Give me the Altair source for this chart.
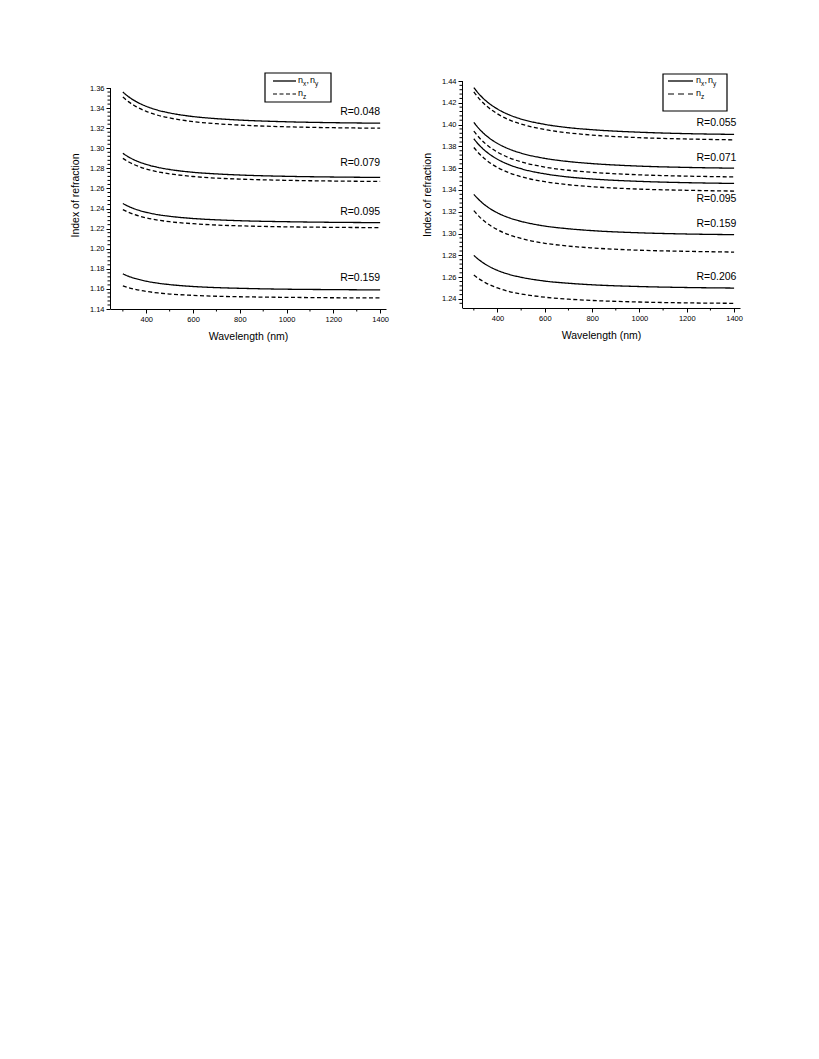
import altair as alt
import pandas as pd

FONT = "Liberation Sans"

wavelength = [300, 325, 350, 400, 450, 500, 600, 700, 800, 1000, 1200, 1400]

# ---- left panel ----
L048_nxy = [1.356, 1.3512, 1.3474, 1.3418, 1.3379, 1.3352, 1.3316, 1.3295, 1.3281, 1.3264, 1.3255, 1.325]
L048_nz = [1.351, 1.3462, 1.3424, 1.3368, 1.3329, 1.3302, 1.3266, 1.3245, 1.3231, 1.3214, 1.3205, 1.320]
L079_nxy = [1.295, 1.2913, 1.2883, 1.284, 1.281, 1.2789, 1.2761, 1.2745, 1.2734, 1.2721, 1.2714, 1.271]
L079_nz = [1.290, 1.2864, 1.2836, 1.2794, 1.2766, 1.2746, 1.2719, 1.2703, 1.2693, 1.2681, 1.2674, 1.267]
L095_nxy = [1.245, 1.2421, 1.2397, 1.2363, 1.2339, 1.2323, 1.2301, 1.2288, 1.2279, 1.2269, 1.2263, 1.226]
L095_nz = [1.239, 1.2362, 1.234, 1.2307, 1.2285, 1.2269, 1.2249, 1.2236, 1.2228, 1.2218, 1.2213, 1.221]
L159_nxy = [1.175, 1.1725, 1.1706, 1.1677, 1.1657, 1.1643, 1.1624, 1.1613, 1.1606, 1.1597, 1.1593, 1.159]
L159_nz = [1.163, 1.1611, 1.1597, 1.1575, 1.156, 1.1549, 1.1536, 1.1527, 1.1522, 1.1516, 1.1512, 1.151]

left_labels = ["R=0.048", "R=0.079", "R=0.095", "R=0.159"]
left_label_y = [1.3364, 1.285, 1.2368, 1.171]
left_yticks = [1.14, 1.16, 1.18, 1.20, 1.22, 1.24, 1.26, 1.28, 1.30, 1.32, 1.34, 1.36]
left_extra_minor = []

# ---- right panel ----
R055_nxy = [1.434, 1.4273, 1.422, 1.4143, 1.4089, 1.4051, 1.4002, 1.3972, 1.3953, 1.393, 1.3917, 1.391]
R055_nz = [1.430, 1.4232, 1.4178, 1.4098, 1.4043, 1.4005, 1.3954, 1.3924, 1.3904, 1.388, 1.3868, 1.386]
R071_nxy = [1.402, 1.3955, 1.3903, 1.3827, 1.3775, 1.3738, 1.369, 1.3661, 1.3642, 1.3619, 1.3607, 1.360]
R071_nz = [1.394, 1.3875, 1.3823, 1.3747, 1.3695, 1.3658, 1.361, 1.3581, 1.3562, 1.3539, 1.3527, 1.352]
R095_nxy = [1.387, 1.3806, 1.3756, 1.3682, 1.3631, 1.3595, 1.3548, 1.3519, 1.3501, 1.3479, 1.3467, 1.346]
R095_nz = [1.379, 1.3728, 1.3679, 1.3606, 1.3557, 1.3522, 1.3476, 1.3448, 1.343, 1.3408, 1.3397, 1.339]
R159_nxy = [1.336, 1.3303, 1.3257, 1.319, 1.3144, 1.3112, 1.3069, 1.3044, 1.3027, 1.3007, 1.2996, 1.299]
R159_nz = [1.321, 1.3151, 1.3104, 1.3036, 1.2988, 1.2955, 1.2911, 1.2885, 1.2868, 1.2847, 1.2837, 1.283]
R206_nxy = [1.280, 1.2754, 1.2717, 1.2662, 1.2625, 1.2599, 1.2564, 1.2544, 1.253, 1.2514, 1.2505, 1.250]
R206_nz = [1.262, 1.258, 1.2548, 1.2501, 1.2468, 1.2446, 1.2416, 1.2398, 1.2386, 1.2372, 1.2364, 1.236]

right_labels = ["R=0.055", "R=0.071", "R=0.095", "R=0.159", "R=0.206"]
right_label_y = [1.4012, 1.3696, 1.3315, 1.3088, 1.2599]
right_yticks = [1.24, 1.26, 1.28, 1.30, 1.32, 1.34, 1.36, 1.38, 1.40, 1.42, 1.44]
right_extra_minor = [1.236]

x_major = [400, 600, 800, 1000, 1200, 1400]
x_minor = [300, 500, 700, 900, 1100, 1300]


def lines_df(series):
    rows = []
    for name, pol, vals in series:
        for w, v in zip(wavelength, vals):
            rows.append({"wl": w, "n": v, "series": name + "_" + pol, "pol": pol})
    return pd.DataFrame(rows)


def y_minor(ticks, extra):
    out = list(extra)
    for a, b in zip(ticks[:-1], ticks[1:]):
        step = (b - a) / 5
        out += [round(a + step * k, 4) for k in range(1, 5)]
    return out


def panel(df, labels, label_y, label_x, xdom, ydom, yticks, extra_minor, w, h, dash, leg):
    xs = alt.Scale(domain=xdom, nice=False, zero=False)
    ys = alt.Scale(domain=ydom, nice=False, zero=False)
    xa = alt.Axis(values=x_major, format="d", tickSize=4)
    ya = alt.Axis(values=yticks, format=".2f", tickSize=4, domain=False)
    XT = "Wavelength (nm)"
    YT = "Index of refraction"

    def X(f):
        return alt.X(f, scale=xs, axis=xa, title=XT)

    def Y(f):
        return alt.Y(f, scale=ys, axis=ya, title=YT)

    lines = alt.Chart(df).mark_line(color="black", strokeWidth=1.3, interpolate="monotone").encode(
        x=X("wl:Q"), y=Y("n:Q"),
        detail="series:N",
        strokeDash=alt.StrokeDash("pol:N", scale=alt.Scale(domain=["nxy", "nz"], range=[[1, 0], dash]), legend=None),
    )

    # y axis line from the bottom of the frame to the top tick
    yline = alt.Chart(pd.DataFrame({"a": [ydom[0]], "b": [yticks[-1]]})).mark_rule(
        color="black", strokeWidth=1).encode(y=Y("a:Q"), y2="b:Q", x=alt.value(0.5))

    xmin = alt.Chart(pd.DataFrame({"v": x_minor})).mark_rule(color="black", strokeWidth=1).encode(
        x=X("v:Q"), y=alt.value(h), y2=alt.value(h + 2.5))
    ymin = alt.Chart(pd.DataFrame({"v": y_minor(yticks, extra_minor)})).mark_rule(color="black", strokeWidth=1).encode(
        y=Y("v:Q"), x=alt.value(0), x2=alt.value(-2.5))

    txt = alt.Chart(pd.DataFrame({"t": labels, "y": label_y, "x": [label_x] * len(labels)})).mark_text(
        align="right", baseline="middle", fontSize=10.5, font=FONT, color="black").encode(
        x=X("x:Q"), y=Y("y:Q"), text="t:N")

    one = pd.DataFrame({"k": [0]})
    bx0, bx1, by0, by1, lx0, lx1, ly1, ly2, tx = leg
    box = alt.Chart(one).mark_rect(fillOpacity=0, stroke="black", strokeWidth=1.2).encode(
        x=alt.value(bx0), x2=alt.value(bx1), y=alt.value(by0), y2=alt.value(by1))
    s1 = alt.Chart(one).mark_rule(color="black", strokeWidth=1.3).encode(
        x=alt.value(lx0), x2=alt.value(lx1), y=alt.value(ly1))
    s2 = alt.Chart(one).mark_rule(color="black", strokeWidth=1.2, strokeDash=dash).encode(
        x=alt.value(lx0), x2=alt.value(lx1), y=alt.value(ly2))

    def t(s, x, y, size=9):
        return alt.Chart(one).mark_text(align="left", baseline="middle", fontSize=size, font=FONT,
                                        color="black").encode(x=alt.value(x), y=alt.value(y), text=alt.value(s))

    legend_text = [
        t("n", tx, ly1 - 1), t("x", tx + 5, ly1 + 3, 6.5), t(",", tx + 8.5, ly1 - 1),
        t("n", tx + 12, ly1 - 1), t("y", tx + 17, ly1 + 3, 6.5),
        t("n", tx, ly2 - 1), t("z", tx + 5, ly2 + 3, 6.5),
    ]
    return alt.layer(lines, yline, xmin, ymin, txt, box, s1, s2, *legend_text).properties(width=w, height=h)


left_df = lines_df([
    ("048", "nxy", L048_nxy), ("048", "nz", L048_nz),
    ("079", "nxy", L079_nxy), ("079", "nz", L079_nz),
    ("095", "nxy", L095_nxy), ("095", "nz", L095_nz),
    ("159", "nxy", L159_nxy), ("159", "nz", L159_nz),
])
right_df = lines_df([
    ("055", "nxy", R055_nxy), ("055", "nz", R055_nz),
    ("071", "nxy", R071_nxy), ("071", "nz", R071_nz),
    ("095", "nxy", R095_nxy), ("095", "nz", R095_nz),
    ("159", "nxy", R159_nxy), ("159", "nz", R159_nz),
    ("206", "nxy", R206_nxy), ("206", "nz", R206_nz),
])

left = panel(left_df, left_labels, left_label_y, 1400, [245, 1425], [1.14, 1.367], left_yticks, left_extra_minor,
             276, 228, [4, 2.5], (155, 221, -8, 21, 163, 186, 0, 13, 188))
right = panel(right_df, right_labels, right_label_y, 1410, [250, 1425], [1.2317, 1.44], right_yticks, right_extra_minor,
              278, 227, [6, 4], (201, 265, -7, 30, 206, 231, 0, 13, 234))

chart = alt.hconcat(left, right, spacing=33).properties(
    padding={"left": 62, "top": 64, "right": 5, "bottom": 5}
).configure_view(stroke=None).configure_axis(
    labelFont=FONT, titleFont=FONT, labelFontSize=7.5, titleFontSize=10.5,
    titleFontWeight="normal", labelColor="black", titleColor="black",
    domainColor="black", tickColor="black", domainWidth=1, tickWidth=1, grid=False,
    labelPadding=2, titlePadding=9,
)

chart.save("out.html", embed_options={"renderer": "svg", "actions": False})
